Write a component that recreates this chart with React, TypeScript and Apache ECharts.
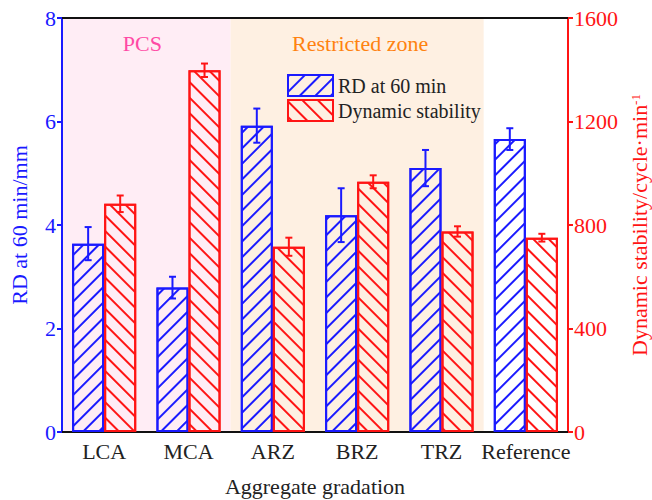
import React, { useEffect, useRef } from "react";
import * as echarts from "echarts";

const categories = ["LCA", "MCA", "ARZ", "BRZ", "TRZ", "Reference"];
const rdValues = [3.64, 2.79, 5.92, 4.19, 5.1, 5.66];
const rdErrors = [0.32, 0.21, 0.33, 0.52, 0.35, 0.21];
const dsValues = [882, 1398, 716, 967, 775, 751];
const dsErrors = [32, 26, 35, 25, 20, 15];
const leftTicks = { min: 0, max: 8, interval: 2 };
const rightTicks = { min: 0, max: 1600, interval: 400 };
const zones = [
  { name: "PCS", from: 0, to: 2 },
  { name: "Restricted zone", from: 2, to: 5 },
];

const BLUE = "#1a1aff";
const RED = "#ff1414";
const FONT = "Liberation Serif";
const BAR_FRAC = 0.38;

export default function App() {
  const ref = useRef<HTMLDivElement>(null);
  useEffect(() => {
    if (!ref.current) return;
    const chart = echarts.init(ref.current, undefined, { renderer: "svg" });

    const errorSeries = (vals: number[], errs: number[], side: number, color: string, yIdx: number, name: string) => ({
      type: "custom",
      name,
      xAxisIndex: 0,
      yAxisIndex: yIdx,
      z: 5,
      silent: true,
      encode: { x: 0, y: [1, 2] },
      data: vals.map((v, i) => [i, v - errs[i], v + errs[i]]),
      renderItem: (params: any, api: any) => {
        const idx = api.value(0);
        const lo = api.coord([idx, api.value(1)]);
        const hi = api.coord([idx, api.value(2)]);
        const band = api.size([1, 0])[0];
        const cx = lo[0] + (side * band * BAR_FRAC) / 2;
        const cap = 3.5;
        const st = { stroke: color, lineWidth: 2 };
        return {
          type: "group",
          children: [
            { type: "line", shape: { x1: cx, y1: lo[1], x2: cx, y2: hi[1] }, style: st },
            { type: "line", shape: { x1: cx - cap, y1: lo[1], x2: cx + cap, y2: lo[1] }, style: st },
            { type: "line", shape: { x1: cx - cap, y1: hi[1], x2: cx + cap, y2: hi[1] }, style: st },
          ],
        };
      },
    });

    const zoneColors = ["#ffedf5", "#fef0e2"];
    const zoneText = ["#ff4aa5", "#ff8210"];
    const zoneOffsets = [[-4, 0], [3, 0]];

    chart.setOption({
      animation: false,
      backgroundColor: "#ffffff",
      textStyle: { fontFamily: FONT },
      grid: { left: 62, right: 84, top: 18, bottom: 68, containLabel: false, outerBoundsMode: "none" },
      legend: {
        orient: "vertical",
        left: 282,
        top: 69,
        itemWidth: 45,
        itemHeight: 21,
        itemGap: 2,
        icon: "rect",
        data: ["RD at 60 min", "Dynamic stability"],
        textStyle: { fontSize: 20, color: "#222", fontFamily: FONT },
      },
      xAxis: [
        {
          type: "category",
          data: categories,
          position: "bottom",
          axisLine: { show: true, lineStyle: { color: "#111", width: 2 } },
          axisTick: { show: false },
          axisLabel: { fontSize: 22, color: "#222", fontFamily: FONT, margin: 8, interval: 0 },
          name: "Aggregate gradation",
          nameLocation: "middle",
          nameGap: 43,
          nameTextStyle: { fontSize: 22, color: "#222", fontFamily: FONT },
        },
        {
          type: "value",
          min: 0,
          max: 6,
          position: "top",
          axisLine: { show: true, onZero: false, lineStyle: { color: "#111", width: 2 } },
          axisTick: { show: false },
          axisLabel: { show: false },
          splitLine: { show: false },
        },
      ],
      yAxis: [
        {
          type: "value",
          min: leftTicks.min,
          max: leftTicks.max,
          interval: leftTicks.interval,
          position: "left",
          axisLine: { show: true, lineStyle: { color: BLUE, width: 2 } },
          axisTick: { show: true, inside: false, length: 5, lineStyle: { color: BLUE, width: 2 } },
          axisLabel: { fontSize: 22, color: BLUE, fontFamily: FONT, margin: 6 },
          splitLine: { show: false },
          name: "RD at 60 min/mm",
          nameLocation: "middle",
          nameRotate: 90,
          nameGap: 32,
          nameTextStyle: { fontSize: 22, color: BLUE, fontFamily: FONT },
        },
        {
          type: "value",
          min: rightTicks.min,
          max: rightTicks.max,
          interval: rightTicks.interval,
          position: "right",
          axisLine: { show: true, lineStyle: { color: RED, width: 2 } },
          axisTick: { show: true, inside: false, length: 5, lineStyle: { color: RED, width: 2 } },
          axisLabel: { fontSize: 22, color: RED, fontFamily: FONT, margin: 6, formatter: (v: number) => String(v) },
          splitLine: { show: false },
          name: "Dynamic stability/cycle·min{sup|-1}",
          nameLocation: "middle",
          nameRotate: 90,
          nameGap: 57,
          nameTextStyle: {
            fontSize: 22,
            color: RED,
            fontFamily: FONT,
            rich: { sup: { fontSize: 13, color: RED, fontFamily: FONT, verticalAlign: "top", lineHeight: 22 } },
          },
        },
      ],
      series: [
        {
          type: "line",
          name: "zones",
          xAxisIndex: 1,
          yAxisIndex: 0,
          z: 0,
          silent: true,
          symbol: "none",
          lineStyle: { opacity: 0 },
          data: [[0, 0]],
          markArea: {
            silent: true,
            z: 0,
            data: zones.map((zn, i) => [
              {
                xAxis: zn.from,
                name: zn.name,
                itemStyle: { color: zoneColors[i] },
                label: {
                  show: true,
                  position: "insideTop",
                  distance: 14,
                  offset: zoneOffsets[i],
                  fontSize: 22,
                  color: zoneText[i],
                  fontFamily: FONT,
                },
              },
              { xAxis: zn.to },
            ]),
          },
        },
        {
          type: "bar",
          name: "RD at 60 min",
          xAxisIndex: 0,
          yAxisIndex: 0,
          z: 2,
          barWidth: BAR_FRAC * 100 + "%",
          barGap: "0%",
          data: rdValues,
          itemStyle: {
            color: "rgba(255,255,255,0)",
            borderColor: BLUE,
            borderWidth: 2,
            decal: {
              symbol: "rect",
              symbolSize: 1,
              color: BLUE,
              dashArrayX: [1, 0],
              dashArrayY: [1.8, 8.8],
              rotation: -Math.PI / 4,
            },
          },
        },
        {
          type: "bar",
          name: "Dynamic stability",
          xAxisIndex: 0,
          yAxisIndex: 1,
          z: 2,
          barWidth: BAR_FRAC * 100 + "%",
          barGap: "0%",
          data: dsValues,
          itemStyle: {
            color: "rgba(255,255,255,0)",
            borderColor: RED,
            borderWidth: 2,
            decal: {
              symbol: "rect",
              symbolSize: 1,
              color: RED,
              dashArrayX: [1, 0],
              dashArrayY: [1.8, 8.8],
              rotation: Math.PI / 4,
            },
          },
        },
        errorSeries(rdValues, rdErrors, -1, BLUE, 0, "rdErr"),
        errorSeries(dsValues, dsErrors, 1, RED, 1, "dsErr"),
      ],
    } as any);

    return () => chart.dispose();
  }, []);

  return <div ref={ref} style={{ width: 652, height: 500, position: "absolute", left: 0, top: 0 }} />;
}
